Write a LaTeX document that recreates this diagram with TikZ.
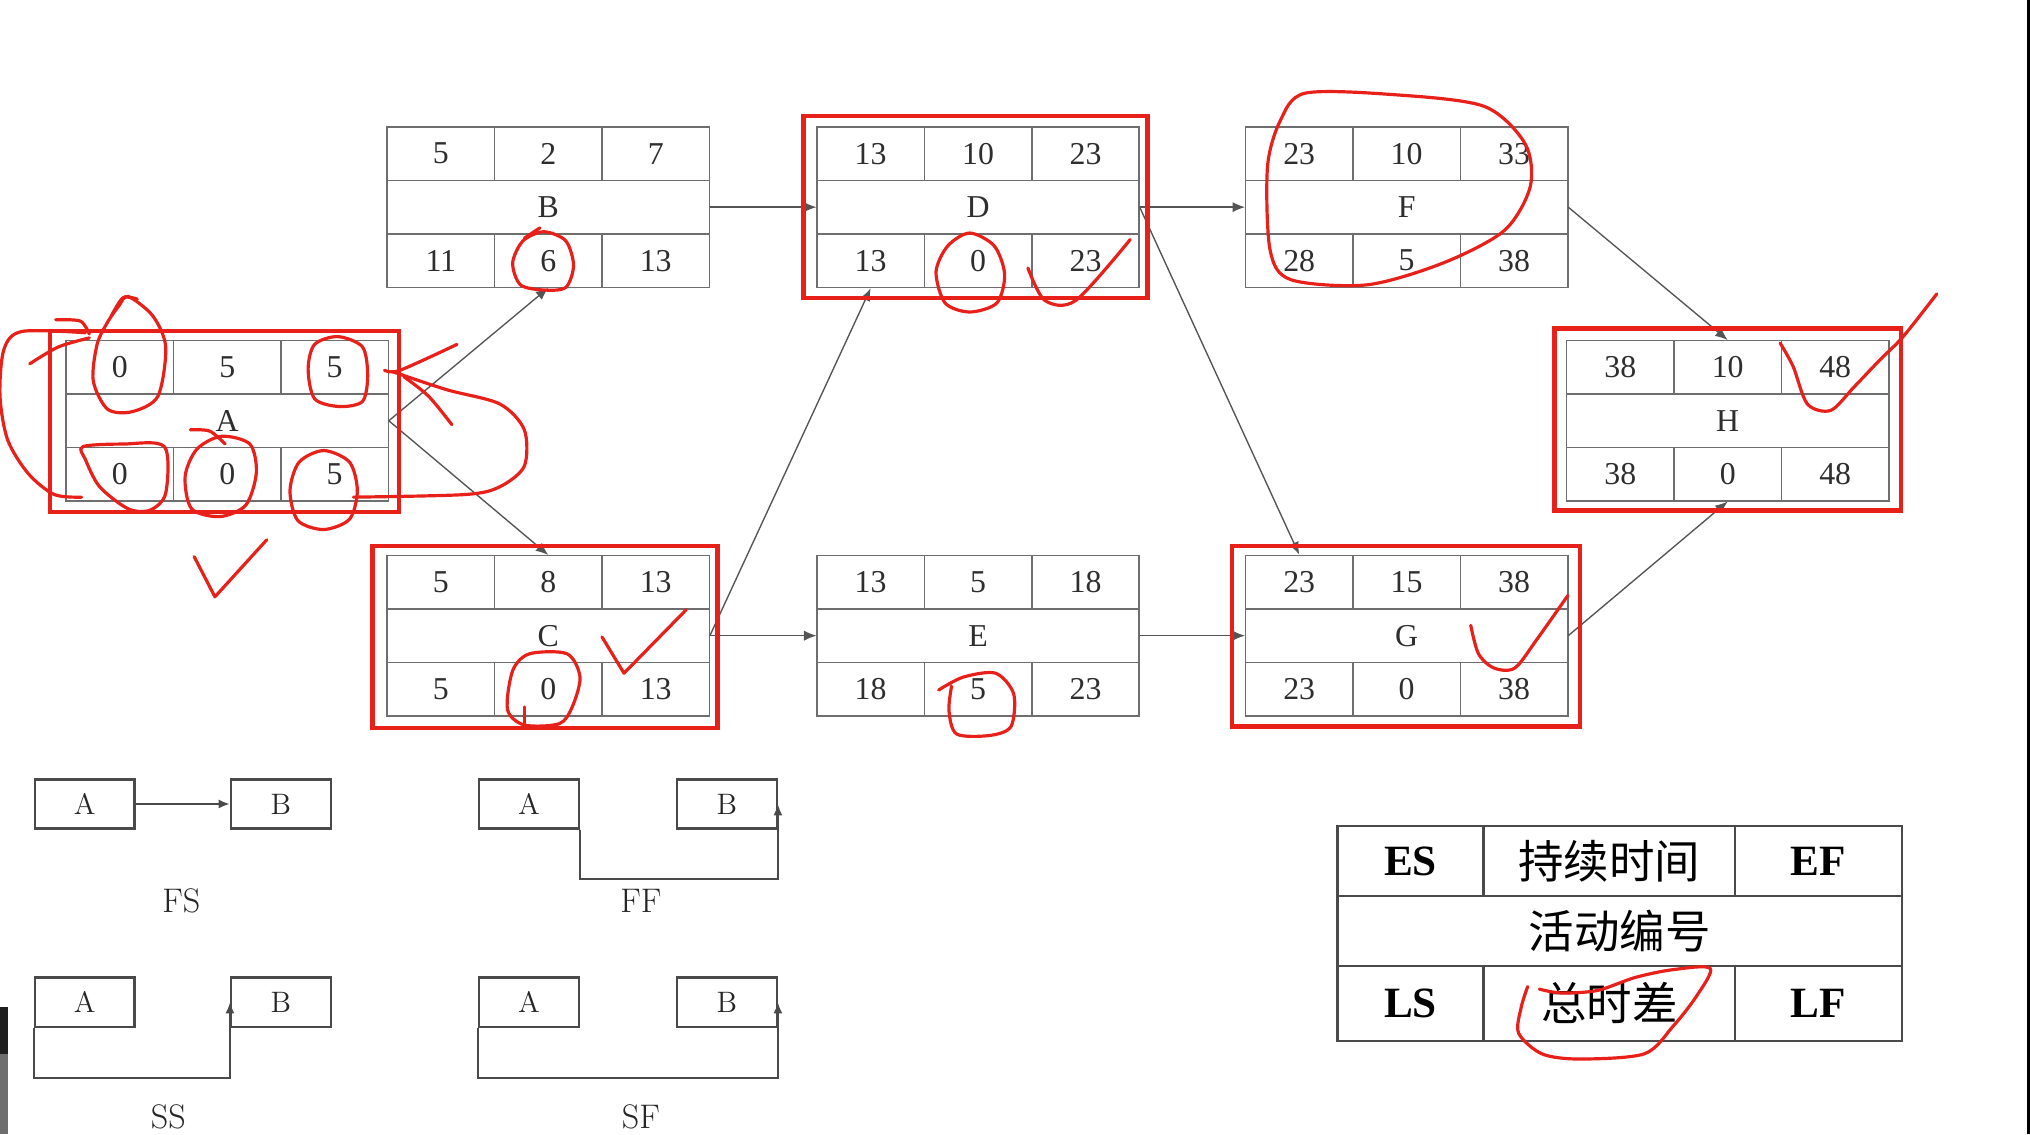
\documentclass[tikz,border=0pt]{standalone}
\usepackage{fontspec}
\newfontfamily\tnr{Liberation Serif}
\newfontfamily\cjk{Noto Sans CJK SC}
\usetikzlibrary{arrows.meta,calc}
\definecolor{boxgray}{HTML}{6E6E6E}
\definecolor{txtgray}{HTML}{2E2E2E}
\definecolor{lnkgray}{HTML}{555555}
\definecolor{pen}{HTML}{E8201A}
\definecolor{lgline}{HTML}{4A4A4A}
\definecolor{barblack}{HTML}{1E1E1E}
\definecolor{bargray}{HTML}{6E6E6E}

\tikzset{
 cell/.style={draw=boxgray, line width=0.75pt, minimum width=1.66cm, minimum height=0.8267cm, inner sep=0pt, text=txtgray, font=\tnr\fontsize{14}{14}\selectfont},
 midcell/.style={cell, minimum width=4.98cm},
 boxframe/.style={minimum width=4.98cm, minimum height=2.48cm, inner sep=0pt},
 conn/.style={draw=lnkgray, line width=0.6pt, -{Latex[length=5.5pt,width=4.5pt]}},
 critbox/.style={draw=pen, line width=2pt},
 scrib/.style={draw=pen, line width=1.4pt, line cap=round, line join=round},
 lbox/.style={draw=lgline, line width=1pt, minimum width=1.54cm, minimum height=0.76cm, inner sep=0pt, text=black!85, font=\fontsize{13}{13}\selectfont},
 lconn/.style={draw=lgline, line width=1pt, -{Latex[length=5pt,width=4pt]}},
 ltag/.style={font=\fontsize{15}{15}\selectfont, inner sep=0pt, text=black!85},
 kcell/.style={draw=lgline, line width=1.1pt, minimum height=1.08cm, inner sep=0pt, text=black},
 klat/.style={font=\tnr\bfseries\fontsize{19}{19}\selectfont},
 kcjk/.style={font=\cjk\fontsize{20}{20}\selectfont},
}

\newcommand\actbox[8]{%
 \node[boxframe] (#1) at (124.5,62) {};
 \node[cell] (#1-es) at (41.5,20.67) {#2};
 \node[cell] (#1-du) at (124.5,20.67) {#3};
 \node[cell] (#1-ef) at (207.5,20.67) {#4};
 \node[midcell] (#1-id) at (124.5,62) {#5};
 \node[cell] (#1-ls) at (41.5,103.33) {#6};
 \node[cell] (#1-tf) at (124.5,103.33) {#7};
 \node[cell] (#1-lf) at (207.5,103.33) {#8};
}
\newcommand\critframe[5]{%
 \draw[critbox] ($(#1.north west)+(-#2,-#3)$) rectangle ($(#1.south east)+(#4,#5)$);
}

\begin{document}
\begin{tikzpicture}[x=0.02cm,y=-0.02cm]
\useasboundingbox (0,0) rectangle (1568,876);
\fill[white] (0,0) rectangle (1568,876);

% activity boxes
\begin{scope}[shift={(51,263)}]\actbox{A}{0}{5}{5}{A}{0}{0}{5}\end{scope}
\begin{scope}[shift={(299,98)}]\actbox{B}{5}{2}{7}{B}{11}{6}{13}\end{scope}
\begin{scope}[shift={(299,429)}]\actbox{C}{5}{8}{13}{C}{5}{0}{13}\end{scope}
\begin{scope}[shift={(631,98)}]\actbox{D}{13}{10}{23}{D}{13}{0}{23}\end{scope}
\begin{scope}[shift={(631,429)}]\actbox{E}{13}{5}{18}{E}{18}{5}{23}\end{scope}
\begin{scope}[shift={(962,98)}]\actbox{F}{23}{10}{33}{F}{28}{5}{38}\end{scope}
\begin{scope}[shift={(962,429)}]\actbox{G}{23}{15}{38}{G}{23}{0}{38}\end{scope}
\begin{scope}[shift={(1210,263)}]\actbox{H}{38}{10}{48}{H}{38}{0}{48}\end{scope}

% connectors
\draw[conn] (A.east) -- (B.south);
\draw[conn] (A.east) -- (C.north);
\draw[conn] (B.east) -- (D.west);
\draw[conn] (C.east) -- (D-ls.south);
\draw[conn] (C.east) -- (E.west);
\draw[conn] (D.east) -- (F.west);
\draw[conn] (D.east) -- (G-es.north);
\draw[conn] (E.east) -- (G.west);
\draw[conn] (F.east) -- (H.north);
\draw[conn] (G.east) -- (H.south);

% critical path frames
\critframe{A}{12}{7}{8}{8}
\critframe{C}{11}{7}{6}{9}
\critframe{D}{10}{8}{6}{8}
\critframe{G}{10}{7}{9}{8}
\critframe{H}{9}{9}{9}{7}

% dependency types legend
\node[lbox] (fsA) at (65.5,621) {A};
\node[lbox] (fsB) at (217,621) {B};
\draw[lconn] (fsA.east) -- (fsB.west);
\node[ltag] (fsT) at (140,696) {FS};

\node[lbox] (ffA) at (408.5,621) {A};
\node[lbox] (ffB) at (561.5,621) {B};
\draw[lconn] (ffA.south east) -- ++(0,38) -| (ffB.east);
\node[ltag] (ffT) at (495,696) {FF};

\node[lbox] (ssA) at (65.5,774) {A};
\node[lbox] (ssB) at (217,774) {B};
\draw[lconn] (ssA.south west) -- ++(0,39) -| (ssB.west);
\node[ltag] (ssT) at (130,863) {SS};

\node[lbox] (sfA) at (408.5,774) {A};
\node[lbox] (sfB) at (561.5,774) {B};
\draw[lconn] (sfA.south west) -- ++(0,39) -| (sfB.east);
\node[ltag] (sfT) at (495,863) {SF};

% key table
\node[kcell, minimum width=2.26cm, klat] (kes) at (1089.5,665) {ES};
\node[kcell, minimum width=3.88cm, kcjk] (kdu) at (1243,665) {持续时间};
\node[kcell, minimum width=2.58cm, klat] (kef) at (1404.5,665) {EF};
\node[kcell, minimum width=8.72cm, kcjk] (kid) at (1251,719) {活动编号};
\node[kcell, minimum width=2.26cm, minimum height=1.16cm, klat] (kls) at (1089.5,775) {LS};
\node[kcell, minimum width=3.88cm, minimum height=1.16cm, kcjk] (ktf) at (1243,775) {总时差};
\node[kcell, minimum width=2.58cm, minimum height=1.16cm, klat] (klf) at (1404.5,775) {LF};

% hand-drawn marks
\draw[scrib] plot[smooth cycle] coordinates {(99,229)(118,244)(128,268)(122,306)(102,318)(83,316)(72,294)(75,266)(83,249)(92,236)};
\draw[scrib] plot[smooth] coordinates {(86,244)(95,230)(106,231)};
\draw[scrib] plot[smooth] coordinates {(23,281)(45,268)(69,261)};
\draw[scrib] plot[smooth] coordinates {(43,247)(62,248)(69,258)};
\draw[scrib] plot[smooth] coordinates {(66,257)(17,256)(3,270)(0,306)(6,340)(22,366)(42,382)(63,384)};
\draw[scrib] plot[smooth cycle] coordinates {(261,260)(280,268)(284,290)(280,310)(262,314)(243,308)(238,285)(243,266)};
\draw[scrib] plot[smooth] coordinates {(297,286)(309,286)(353,266)};
\draw[scrib] plot[smooth] coordinates {(312,291)(331,306)(349,328)};
\draw[scrib] plot[smooth] coordinates {(303,287)(345,301)(386,312)(405,332)(405,360)(386,376)(359,382)(273,384)};
\draw[scrib] plot[smooth cycle] coordinates {(64,345)(95,343)(127,345)(128,381)(116,394)(99,393)(77,376)(66,355)};
\draw[scrib] plot[smooth cycle] coordinates {(171,337)(193,343)(198,365)(190,390)(170,399)(148,393)(143,368)(152,347)};
\draw[scrib] plot[smooth] coordinates {(147,332)(162,333)(174,343)};
\draw[scrib] plot[smooth cycle] coordinates {(250,348)(270,357)(276,379)(270,401)(250,409)(230,402)(224,379)(231,357)};
\draw[scrib] plot coordinates {(150,430)(166,461)(206,417)};
\draw[scrib] plot[smooth cycle] coordinates {(420,179)(437,186)(443,205)(437,222)(420,224)(402,220)(396,203)(404,186)};
\draw[scrib] plot[smooth] coordinates {(405,184)(417,176)};
\draw[scrib] plot[smooth cycle] coordinates {(749,180)(768,190)(776,212)(770,234)(749,241)(730,234)(723,210)(732,190)};
\draw[scrib] plot[smooth] coordinates {(794,207)(807,232)(831,232)(873,185)};
\draw[scrib] plot[smooth cycle] coordinates {(1008,72)(1075,73)(1146,82)(1178,111)(1182,144)(1162,178)(1115,203)(1056,220)(997,216)(981,193)(979,129)(989,93)};
\draw[scrib] plot[smooth] coordinates {(1375,265)(1385,283)(1396,312)(1414,317)(1432,299)(1452,278)(1470,260)(1496,227)};
\draw[scrib] plot[smooth cycle] coordinates {(409,505)(438,505)(448,523)(442,546)(432,559)(405,560)(392,548)(396,518)};
\draw[scrib] plot coordinates {(405,546)(405,559)};
\draw[scrib] plot coordinates {(465,492)(482,520)(530,471)};
\draw[scrib] plot[smooth] coordinates {(725,533)(744,523)(769,520)(783,536)(781,561)(765,568)(739,567)(733,549)(735,530)};
\draw[scrib] plot[smooth] coordinates {(1136,483)(1142,505)(1154,516)(1170,516)(1187,494)(1211,460)};
\draw[scrib] plot[smooth] coordinates {(1189,764)(1206,767)(1234,765)(1263,755)(1292,749)(1321,748)(1310,770)(1292,793)(1270,814)(1220,818)(1191,814)(1173,798)(1175,778)(1180,762)};

% screen edges
\fill[black] (1565.5,0) rectangle (1568,876);
\fill[barblack] (0,778) rectangle (6.5,814);
\fill[bargray] (0,814) rectangle (6.5,876);
\end{tikzpicture}
\end{document}
